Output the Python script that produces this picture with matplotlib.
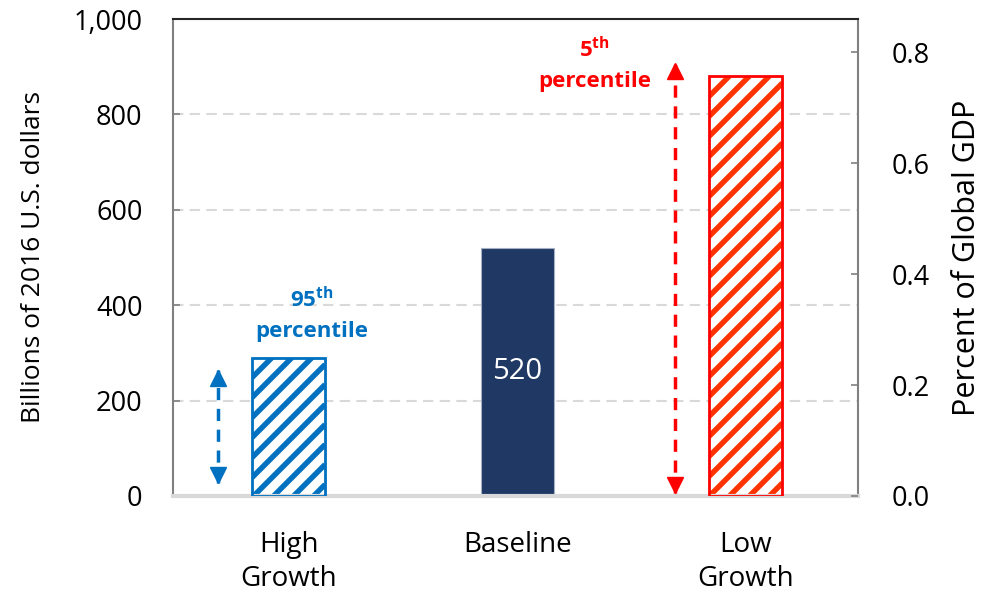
import matplotlib
matplotlib.use("Agg")
import matplotlib.pyplot as plt
import matplotlib.transforms as mtransforms
from matplotlib.collections import LineCollection

plt.rcParams['font.family'] = ['Open Sans', 'DejaVu Sans']
plt.rcParams['mathtext.fontset'] = 'custom'
plt.rcParams['mathtext.rm'] = 'Open Sans'
plt.rcParams['mathtext.bf'] = 'Open Sans:bold'

# Data
categories = ["High\nGrowth", "Baseline", "Low\nGrowth"]
values = [290, 520, 880]
left_ticks = [0, 200, 400, 600, 800, 1000]
right_ticks = [0.0, 0.2, 0.4, 0.6, 0.8]
right_max = 0.86
# uncertainty arrows (billions of dollars)
arrow_x_offset = -0.31
blue_span = [27, 264]
red_span = [6, 908]

BLUE = "#0070C0"
NAVY = "#1F3864"
RED = "#FF0000"
RED_HATCH = "#FF3300"
GRID = "#D9D9D9"

fig = plt.figure(figsize=(9.86, 5.94), dpi=100)
ax = fig.add_axes([0.1755, 0.165, 0.6945, 0.803])
ax.set_xlim(-0.505, 2.49)
ax.set_ylim(0, 1000)

x = list(range(len(categories)))
w = 0.32


def striped_bar(xc, val, color, stripe_color):
    """White bar with wide diagonal stripes and a coloured outline."""
    rect = ax.bar(xc, val, w, color="white", linewidth=0, zorder=2)[0]
    bb = rect.get_window_extent()
    x0, y0, x1, y1 = bb.x0, bb.y0, bb.x1, bb.y1
    spacing = 20
    segs = []
    c = x0 - (y1 - y0)
    while c < x1:
        # 45-degree line through (c, y0), cut to the bar rectangle
        sx = max(c, x0)
        sy = y0 + (sx - c)
        ex = min(c + (y1 - y0), x1)
        ey = y0 + (ex - c)
        if ex > sx:
            segs.append([(sx, sy), (ex, ey)])
        c += spacing
    lc = LineCollection(segs, colors=stripe_color, linewidths=3.9,
                        capstyle="butt",
                        transform=mtransforms.IdentityTransform(), zorder=2.5)
    ax.add_collection(lc, autolim=False)
    lc.set_clip_path(rect)
    ax.bar(xc, val, w, fill=False, edgecolor=color, linewidth=2, zorder=3)


# High growth: striped blue
striped_bar(x[0], values[0], BLUE, BLUE)
# Baseline: solid navy
ax.bar(x[1], values[1], w, color=NAVY, edgecolor="#A6B0C3", linewidth=0.8, zorder=2)
ax.text(x[1], values[1] * 0.5, f"{values[1]}", color="white", fontsize=21,
        ha="center", va="center", zorder=4)
# Low growth: striped red
striped_bar(x[2], values[2], RED, RED_HATCH)

ax.set_yticks(left_ticks)
ax.set_yticklabels([f"{t:,}" for t in left_ticks])
ax.set_xticks(x)
ax.set_xticklabels(categories, fontsize=20, linespacing=1.3)
ax.tick_params(axis="x", length=0, pad=25)
ax.tick_params(axis="y", direction="in", length=5, width=1.2, color="#808080",
               labelsize=19.5, pad=22)

for t in left_ticks[1:-1]:
    ax.axhline(t, color=GRID, linewidth=1.5, linestyle=(0, (5, 3)), zorder=1)

ax.spines["left"].set_color("#808080")
ax.spines["left"].set_linewidth(1.5)
ax.spines["right"].set_color("#808080")
ax.spines["right"].set_linewidth(1.5)
ax.spines["top"].set_color("#262626")
ax.spines["top"].set_linewidth(1.5)
ax.spines["bottom"].set_color(GRID)
ax.spines["bottom"].set_linewidth(3)

ax.set_ylabel("Billions of 2016 U.S. dollars", fontsize=19, labelpad=20)

# Secondary axis: share of global GDP
ax2 = ax.twinx()
ax2.set_ylim(0, right_max)
ax2.set_yticks(right_ticks)
ax2.set_yticklabels([f"{t:.1f}" for t in right_ticks])
ax2.tick_params(axis="y", direction="in", length=5, width=1.2, color="#808080",
                labelsize=19.5, pad=24)
ax2.set_ylabel("Percent of Global GDP", fontsize=22, labelpad=16)
for s in ax2.spines.values():
    s.set_visible(False)


def range_arrow(xc, span, color):
    ax.plot([xc, xc], span, color=color, linewidth=2.5,
            linestyle=(0, (3.5, 2.5)), zorder=3, dash_capstyle="butt")
    ms = 11
    down = mtransforms.offset_copy(ax.transData, fig=fig, x=0, y=-ms / 2, units="points")
    up = mtransforms.offset_copy(ax.transData, fig=fig, x=0, y=ms / 2, units="points")
    ax.plot([xc], [span[1]], marker="^", markersize=ms, color=color,
            linestyle="none", transform=down, zorder=4)
    ax.plot([xc], [span[0]], marker="v", markersize=ms, color=color,
            linestyle="none", transform=up, zorder=4)


range_arrow(x[0] + arrow_x_offset, blue_span, BLUE)
range_arrow(x[2] + arrow_x_offset, red_span, RED)

ax.text(x[0] + 0.10, 411, r"$\mathbf{95^{th}}$", color=BLUE, fontsize=16,
        ha="center", va="center")
ax.text(x[0] + 0.10, 344, "percentile", color=BLUE, fontsize=16,
        fontweight="bold", ha="center", va="center")
ax.text(x[2] - 0.66, 935, r"$\mathbf{5^{th}}$", color=RED, fontsize=16,
        ha="center", va="center")
ax.text(x[2] - 0.66, 868, "percentile", color=RED, fontsize=16,
        fontweight="bold", ha="center", va="center")

fig.savefig("out.png", dpi=100)
